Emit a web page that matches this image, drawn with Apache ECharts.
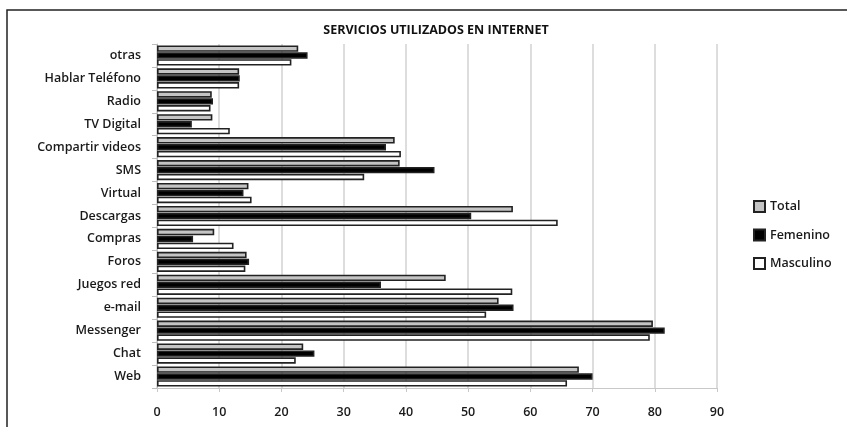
<!DOCTYPE html>
<html>
<head>
<meta charset="utf-8">
<script src="https://cdn.jsdelivr.net/npm/echarts@6/dist/echarts.min.js"></script>
<style>
  html, body { margin: 0; padding: 0; background: #fff; }
  #chart { width: 853px; height: 427px; }
</style>
</head>
<body>
<div id="chart"></div>
<script>
// Servicios (de arriba hacia abajo)
const categories = ['otras', 'Hablar Teléfono', 'Radio', 'TV Digital', 'Compartir videos', 'SMS', 'Virtual',
  'Descargas', 'Compras', 'Foros', 'Juegos red', 'e-mail', 'Messenger', 'Chat', 'Web'];

// Porcentaje de uso por grupo
const total =     [22.7, 13.2, 8.8, 8.9, 38.2, 39.0, 14.7, 57.2, 9.2, 14.4, 46.4, 54.9, 79.7, 23.5, 67.8];
const femenino =  [24.2, 13.3, 9.0, 5.6, 36.8, 44.6, 13.9, 50.5, 5.8, 14.8, 36.0, 57.3, 81.6, 25.3, 70.0];
const masculino = [21.6, 13.2, 8.6, 11.7, 39.2, 33.3, 15.2, 64.4, 12.3, 14.2, 57.1, 52.9, 79.2, 22.3, 65.9];

const seriesNames = ['Total', 'Femenino', 'Masculino'];
const xTicks = [0, 10, 20, 30, 40, 50, 60, 70, 80, 90];

const FONT = '"Open Sans", "Noto Sans", sans-serif';
const chart = echarts.init(document.getElementById('chart'));

const barStyle = (fill) => ({ color: fill, borderColor: '#222', borderWidth: 1.6 });

chart.setOption({
  animation: false,
  backgroundColor: '#ffffff',
  title: {
    text: 'SERVICIOS UTILIZADOS EN INTERNET',
    left: 431, top: 19, textAlign: 'center',
    textStyle: { fontFamily: FONT, fontSize: 12.5, fontWeight: 'bold', color: '#111' }
  },
  legend: {
    orient: 'vertical', left: 748, top: 195, itemGap: 15.5,
    itemWidth: 11, itemHeight: 11, icon: 'rect',
    data: seriesNames,
    textStyle: { fontFamily: FONT, fontSize: 12.5, fontWeight: 600, color: '#1a1a1a' }
  },
  grid: { left: 157, right: 136, top: 44, bottom: 39, containLabel: false },
  xAxis: {
    type: 'value', min: xTicks[0], max: xTicks[xTicks.length - 1], interval: 10,
    axisLine: { show: true, lineStyle: { color: '#c8c8c8', width: 1 } },
    axisTick: { show: true, length: 4, lineStyle: { color: '#c8c8c8' } },
    axisLabel: { fontFamily: FONT, fontSize: 12.5, fontWeight: 600, color: '#1a1a1a', margin: 18 },
    splitLine: { show: true, lineStyle: { color: '#d2d2d2', width: 1.5 } }
  },
  yAxis: {
    type: 'category', data: categories, inverse: true,
    axisLine: { show: true, lineStyle: { color: '#bdbdbd', width: 1 } },
    axisTick: { show: true, length: 5, lineStyle: { color: '#bdbdbd' } },
    axisLabel: { fontFamily: FONT, fontSize: 12.5, fontWeight: 600, color: '#1a1a1a', margin: 16 }
  },
  series: [
    { name: seriesNames[0], type: 'bar', data: total, itemStyle: barStyle('#c4c4c4'),
      barGap: '8%', barCategoryGap: '12%' },
    { name: seriesNames[1], type: 'bar', data: femenino, itemStyle: barStyle('#000000') },
    { name: seriesNames[2], type: 'bar', data: masculino, itemStyle: barStyle('#ffffff') }
  ],
  graphic: [
    { type: 'polyline', shape: { points: [[7, 427], [7, 10], [847, 10]] },
      style: { stroke: '#222', lineWidth: 1.5, fill: null } }
  ]
});
</script>
</body>
</html>
